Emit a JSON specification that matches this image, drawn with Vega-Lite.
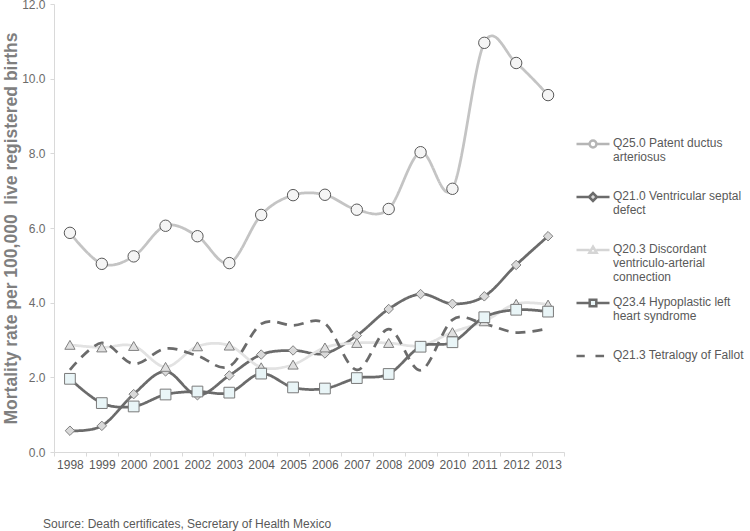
{
  "$schema": "https://vega.github.io/schema/vega-lite/v6.json",
  "width": 510,
  "height": 448,
  "autosize": {"type": "none"},
  "padding": {"left": 54, "top": 4, "right": 186, "bottom": 79},
  "background": "white",
  "config": {
    "view": {"stroke": null},
    "font": "Liberation Sans",
    "axis": {"labelFont": "Liberation Sans", "titleFont": "Liberation Sans"},
    "legend": {"labelFont": "Liberation Sans"}
  },
  "title": {
    "text": "Source: Death certificates, Secretary of Health Mexico",
    "orient": "bottom",
    "anchor": "start",
    "frame": "group",
    "fontSize": 12,
    "fontWeight": "normal",
    "color": "#595959",
    "font": "Liberation Sans",
    "dx": -11,
    "offset": 49
  },
  "data": {
    "values": [
      {"year": "1998", "series": "Q25.0 Patent ductus arteriosus", "value": 5.87},
      {"year": "1999", "series": "Q25.0 Patent ductus arteriosus", "value": 5.04},
      {"year": "2000", "series": "Q25.0 Patent ductus arteriosus", "value": 5.24},
      {"year": "2001", "series": "Q25.0 Patent ductus arteriosus", "value": 6.06},
      {"year": "2002", "series": "Q25.0 Patent ductus arteriosus", "value": 5.78},
      {"year": "2003", "series": "Q25.0 Patent ductus arteriosus", "value": 5.06},
      {"year": "2004", "series": "Q25.0 Patent ductus arteriosus", "value": 6.35},
      {"year": "2005", "series": "Q25.0 Patent ductus arteriosus", "value": 6.88},
      {"year": "2006", "series": "Q25.0 Patent ductus arteriosus", "value": 6.89},
      {"year": "2007", "series": "Q25.0 Patent ductus arteriosus", "value": 6.49},
      {"year": "2008", "series": "Q25.0 Patent ductus arteriosus", "value": 6.51},
      {"year": "2009", "series": "Q25.0 Patent ductus arteriosus", "value": 8.03},
      {"year": "2010", "series": "Q25.0 Patent ductus arteriosus", "value": 7.05},
      {"year": "2011", "series": "Q25.0 Patent ductus arteriosus", "value": 10.96},
      {"year": "2012", "series": "Q25.0 Patent ductus arteriosus", "value": 10.42},
      {"year": "2013", "series": "Q25.0 Patent ductus arteriosus", "value": 9.56},
      {"year": "1998", "series": "Q21.0 Ventricular septal defect", "value": 0.57},
      {"year": "1999", "series": "Q21.0 Ventricular septal defect", "value": 0.70},
      {"year": "2000", "series": "Q21.0 Ventricular septal defect", "value": 1.55},
      {"year": "2001", "series": "Q21.0 Ventricular septal defect", "value": 2.16},
      {"year": "2002", "series": "Q21.0 Ventricular septal defect", "value": 1.52},
      {"year": "2003", "series": "Q21.0 Ventricular septal defect", "value": 2.05},
      {"year": "2004", "series": "Q21.0 Ventricular septal defect", "value": 2.61},
      {"year": "2005", "series": "Q21.0 Ventricular septal defect", "value": 2.72},
      {"year": "2006", "series": "Q21.0 Ventricular septal defect", "value": 2.64},
      {"year": "2007", "series": "Q21.0 Ventricular septal defect", "value": 3.12},
      {"year": "2008", "series": "Q21.0 Ventricular septal defect", "value": 3.83},
      {"year": "2009", "series": "Q21.0 Ventricular septal defect", "value": 4.23},
      {"year": "2010", "series": "Q21.0 Ventricular septal defect", "value": 3.97},
      {"year": "2011", "series": "Q21.0 Ventricular septal defect", "value": 4.17},
      {"year": "2012", "series": "Q21.0 Ventricular septal defect", "value": 5.01},
      {"year": "2013", "series": "Q21.0 Ventricular septal defect", "value": 5.78},
      {"year": "1998", "series": "Q20.3 Discordant ventriculo-arterial connection", "value": 2.87},
      {"year": "1999", "series": "Q20.3 Discordant ventriculo-arterial connection", "value": 2.80},
      {"year": "2000", "series": "Q20.3 Discordant ventriculo-arterial connection", "value": 2.84},
      {"year": "2001", "series": "Q20.3 Discordant ventriculo-arterial connection", "value": 2.28},
      {"year": "2002", "series": "Q20.3 Discordant ventriculo-arterial connection", "value": 2.83},
      {"year": "2003", "series": "Q20.3 Discordant ventriculo-arterial connection", "value": 2.85},
      {"year": "2004", "series": "Q20.3 Discordant ventriculo-arterial connection", "value": 2.27},
      {"year": "2005", "series": "Q20.3 Discordant ventriculo-arterial connection", "value": 2.34},
      {"year": "2006", "series": "Q20.3 Discordant ventriculo-arterial connection", "value": 2.80},
      {"year": "2007", "series": "Q20.3 Discordant ventriculo-arterial connection", "value": 2.92},
      {"year": "2008", "series": "Q20.3 Discordant ventriculo-arterial connection", "value": 2.92},
      {"year": "2009", "series": "Q20.3 Discordant ventriculo-arterial connection", "value": 2.85},
      {"year": "2010", "series": "Q20.3 Discordant ventriculo-arterial connection", "value": 3.21},
      {"year": "2011", "series": "Q20.3 Discordant ventriculo-arterial connection", "value": 3.50},
      {"year": "2012", "series": "Q20.3 Discordant ventriculo-arterial connection", "value": 3.97},
      {"year": "2013", "series": "Q20.3 Discordant ventriculo-arterial connection", "value": 3.95},
      {"year": "1998", "series": "Q23.4 Hypoplastic left heart syndrome", "value": 1.96},
      {"year": "1999", "series": "Q23.4 Hypoplastic left heart syndrome", "value": 1.31},
      {"year": "2000", "series": "Q23.4 Hypoplastic left heart syndrome", "value": 1.22},
      {"year": "2001", "series": "Q23.4 Hypoplastic left heart syndrome", "value": 1.54},
      {"year": "2002", "series": "Q23.4 Hypoplastic left heart syndrome", "value": 1.62},
      {"year": "2003", "series": "Q23.4 Hypoplastic left heart syndrome", "value": 1.59},
      {"year": "2004", "series": "Q23.4 Hypoplastic left heart syndrome", "value": 2.10},
      {"year": "2005", "series": "Q23.4 Hypoplastic left heart syndrome", "value": 1.73},
      {"year": "2006", "series": "Q23.4 Hypoplastic left heart syndrome", "value": 1.70},
      {"year": "2007", "series": "Q23.4 Hypoplastic left heart syndrome", "value": 1.98},
      {"year": "2008", "series": "Q23.4 Hypoplastic left heart syndrome", "value": 2.09},
      {"year": "2009", "series": "Q23.4 Hypoplastic left heart syndrome", "value": 2.82},
      {"year": "2010", "series": "Q23.4 Hypoplastic left heart syndrome", "value": 2.94},
      {"year": "2011", "series": "Q23.4 Hypoplastic left heart syndrome", "value": 3.61},
      {"year": "2012", "series": "Q23.4 Hypoplastic left heart syndrome", "value": 3.81},
      {"year": "2013", "series": "Q23.4 Hypoplastic left heart syndrome", "value": 3.76},
      {"year": "1998", "series": "Q21.3 Tetralogy of Fallot", "value": 2.20},
      {"year": "1999", "series": "Q21.3 Tetralogy of Fallot", "value": 2.92},
      {"year": "2000", "series": "Q21.3 Tetralogy of Fallot", "value": 2.36},
      {"year": "2001", "series": "Q21.3 Tetralogy of Fallot", "value": 2.77},
      {"year": "2002", "series": "Q21.3 Tetralogy of Fallot", "value": 2.58},
      {"year": "2003", "series": "Q21.3 Tetralogy of Fallot", "value": 2.29},
      {"year": "2004", "series": "Q21.3 Tetralogy of Fallot", "value": 3.43},
      {"year": "2005", "series": "Q21.3 Tetralogy of Fallot", "value": 3.39},
      {"year": "2006", "series": "Q21.3 Tetralogy of Fallot", "value": 3.44},
      {"year": "2007", "series": "Q21.3 Tetralogy of Fallot", "value": 2.20},
      {"year": "2008", "series": "Q21.3 Tetralogy of Fallot", "value": 3.29},
      {"year": "2009", "series": "Q21.3 Tetralogy of Fallot", "value": 2.19},
      {"year": "2010", "series": "Q21.3 Tetralogy of Fallot", "value": 3.54},
      {"year": "2011", "series": "Q21.3 Tetralogy of Fallot", "value": 3.43},
      {"year": "2012", "series": "Q21.3 Tetralogy of Fallot", "value": 3.20},
      {"year": "2013", "series": "Q21.3 Tetralogy of Fallot", "value": 3.31}
    ]
  },
  "layer": [
    {
      "mark": {"type": "line", "interpolate": "cardinal", "strokeWidth": 2.75},
      "encoding": {
        "x": {
          "field": "year", "type": "ordinal", "bandPosition": 0.5,
          "scale": {"type": "band", "paddingInner": 0, "paddingOuter": 0},
          "axis": {
            "title": null, "labelAngle": 0, "domainColor": "#d9d9d9", "tickColor": "#d9d9d9",
            "tickSize": 4, "tickBand": "extent", "labelColor": "#595959", "labelFontSize": 12,
            "labelPadding": 3, "grid": false
          }
        },
        "y": {
          "field": "value", "type": "quantitative",
          "scale": {"domain": [0, 12], "nice": false, "zero": true},
          "axis": {
            "values": [0, 2, 4, 6, 8, 10, 12], "format": ".1f", "grid": false,
            "title": "Mortality rate per 100,000\u00a0 live registered births",
            "titleFontSize": 17.5, "titleFontWeight": "bold", "titleColor": "#7f7f7f", "titlePadding": 1,
            "labelColor": "#6b6b6b", "labelFontSize": 12, "labelPadding": 5, "tickSize": 4,
            "domainColor": "#d9d9d9", "tickColor": "#d9d9d9"
          }
        },
        "color": {
          "field": "series", "type": "nominal", "legend": null,
          "scale": {
            "domain": ["Q25.0 Patent ductus arteriosus", "Q21.0 Ventricular septal defect", "Q20.3 Discordant ventriculo-arterial connection", "Q23.4 Hypoplastic left heart syndrome", "Q21.3 Tetralogy of Fallot"],
            "range": ["#c4c4c4", "#6b6b6b", "#e2e2e2", "#6b6b6b", "#6b6b6b"]
          }
        },
        "strokeDash": {
          "field": "series", "type": "nominal", "legend": null,
          "scale": {
            "domain": ["Q25.0 Patent ductus arteriosus", "Q21.0 Ventricular septal defect", "Q20.3 Discordant ventriculo-arterial connection", "Q23.4 Hypoplastic left heart syndrome", "Q21.3 Tetralogy of Fallot"],
            "range": [[1, 0], [1, 0], [1, 0], [1, 0], [10, 7]]
          }
        }
      }
    },
    {
      "transform": [{"filter": "datum.series != 'Q21.3 Tetralogy of Fallot'"}],
      "mark": {"type": "point", "filled": true, "strokeWidth": 1, "opacity": 1},
      "encoding": {
        "x": {"field": "year", "type": "ordinal", "bandPosition": 0.5},
        "y": {"field": "value", "type": "quantitative"},
        "shape": {
          "field": "series", "type": "nominal", "legend": null,
          "scale": {
            "domain": ["Q25.0 Patent ductus arteriosus", "Q21.0 Ventricular septal defect", "Q20.3 Discordant ventriculo-arterial connection", "Q23.4 Hypoplastic left heart syndrome"],
            "range": ["circle", "diamond", "triangle-up", "square"]
          }
        },
        "fill": {
          "field": "series", "type": "nominal", "legend": null,
          "scale": {
            "domain": ["Q25.0 Patent ductus arteriosus", "Q21.0 Ventricular septal defect", "Q20.3 Discordant ventriculo-arterial connection", "Q23.4 Hypoplastic left heart syndrome"],
            "range": ["#f5f5f5", "#d9d9d9", "#e0e0e0", "#e9f5f7"]
          }
        },
        "stroke": {
          "field": "series", "type": "nominal", "legend": null,
          "scale": {
            "domain": ["Q25.0 Patent ductus arteriosus", "Q21.0 Ventricular septal defect", "Q20.3 Discordant ventriculo-arterial connection", "Q23.4 Hypoplastic left heart syndrome"],
            "range": ["#595959", "#808080", "#808080", "#7a7a7a"]
          }
        },
        "size": {
          "field": "series", "type": "nominal", "legend": null,
          "scale": {
            "type": "ordinal",
            "domain": ["Q25.0 Patent ductus arteriosus", "Q21.0 Ventricular septal defect", "Q20.3 Discordant ventriculo-arterial connection", "Q23.4 Hypoplastic left heart syndrome"],
            "range": [130, 90, 105, 115]
          }
        }
      }
    },
    {
      "transform": [{"filter": "false"}],
      "mark": {"type": "point", "filled": true, "strokeWidth": 2.5, "opacity": 1, "size": 1089},
      "encoding": {
        "shape": {
          "field": "series", "type": "nominal",
          "scale": {
            "domain": ["Q25.0 Patent ductus arteriosus", "Q21.0 Ventricular septal defect", "Q20.3 Discordant ventriculo-arterial connection", "Q23.4 Hypoplastic left heart syndrome", "Q21.3 Tetralogy of Fallot"],
            "range": [
              "M-1,-0.158H-0.21M0.21,-0.158H1M-0.21,-0.158A0.21,0.21 0 1,1 0.21,-0.158A0.21,0.21 0 1,1 -0.21,-0.158ZM0,-0.858M0,1.68",
              "M-1,-0.158H-0.24M0.24,-0.158H1M-0.24,-0.158L0,-0.398L0.24,-0.158L0,0.082ZM0,-0.858M0,1.68",
              "M-1,-0.158H-0.2M0.2,-0.158H1M0,-0.358L0.22,0.012L-0.22,0.012ZM0,-0.858M0,1.68",
              "M-1,-0.158H-0.2M0.2,-0.158H1M-0.2,-0.358H0.2V0.042H-0.2ZM0,-0.858M0,1.68",
              "M-1,-0.158H-0.5M0.15,-0.158H0.67M0,-0.858M0,1.68"
            ]
          },
          "legend": {
            "title": null, "orient": "none", "legendX": 521, "legendY": 124.6, "padding": 0,
            "rowPadding": 0, "labelFontSize": 12, "labelColor": "#595959", "labelLimit": 250,
            "labelOffset": 2, "labelBaseline": "alphabetic", "symbolStrokeWidth": 2.5, "symbolSize": 1089,
            "labelExpr": "datum.value == 'Q25.0 Patent ductus arteriosus' ? ['Q25.0 Patent ductus', 'arteriosus'] : datum.value == 'Q21.0 Ventricular septal defect' ? ['Q21.0 Ventricular septal', 'defect'] : datum.value == 'Q20.3 Discordant ventriculo-arterial connection' ? ['Q20.3 Discordant', 'ventriculo-arterial', 'connection'] : datum.value == 'Q23.4 Hypoplastic left heart syndrome' ? ['Q23.4 Hypoplastic left', 'heart syndrome'] : '\u00a0\u00a0\u00a0' + datum.label",
            "encode": {"labels": {"update": {"lineHeight": {"value": 14.4}}}}
          }
        },
        "stroke": {
          "field": "series", "type": "nominal",
          "scale": {
            "domain": ["Q25.0 Patent ductus arteriosus", "Q21.0 Ventricular septal defect", "Q20.3 Discordant ventriculo-arterial connection", "Q23.4 Hypoplastic left heart syndrome", "Q21.3 Tetralogy of Fallot"],
            "range": ["#b5b5b5", "#6b6b6b", "#d5d5d5", "#6b6b6b", "#6b6b6b"]
          },
          "legend": {
            "title": null, "orient": "none", "legendX": 521, "legendY": 124.6, "padding": 0,
            "rowPadding": 0, "labelFontSize": 12, "labelColor": "#595959", "labelLimit": 250,
            "labelOffset": 2, "labelBaseline": "alphabetic", "symbolStrokeWidth": 2.5, "symbolSize": 1089,
            "labelExpr": "datum.value == 'Q25.0 Patent ductus arteriosus' ? ['Q25.0 Patent ductus', 'arteriosus'] : datum.value == 'Q21.0 Ventricular septal defect' ? ['Q21.0 Ventricular septal', 'defect'] : datum.value == 'Q20.3 Discordant ventriculo-arterial connection' ? ['Q20.3 Discordant', 'ventriculo-arterial', 'connection'] : datum.value == 'Q23.4 Hypoplastic left heart syndrome' ? ['Q23.4 Hypoplastic left', 'heart syndrome'] : '\u00a0\u00a0\u00a0' + datum.label",
            "encode": {"labels": {"update": {"lineHeight": {"value": 14.4}}}}
          }
        },
        "fill": {
          "field": "series", "type": "nominal",
          "scale": {
            "domain": ["Q25.0 Patent ductus arteriosus", "Q21.0 Ventricular septal defect", "Q20.3 Discordant ventriculo-arterial connection", "Q23.4 Hypoplastic left heart syndrome", "Q21.3 Tetralogy of Fallot"],
            "range": ["#ffffff", "#d9d9d9", "#ffffff", "#eaf6f8", "transparent"]
          },
          "legend": {
            "title": null, "orient": "none", "legendX": 521, "legendY": 124.6, "padding": 0,
            "rowPadding": 0, "labelFontSize": 12, "labelColor": "#595959", "labelLimit": 250,
            "labelOffset": 2, "labelBaseline": "alphabetic", "symbolStrokeWidth": 2.5, "symbolSize": 1089,
            "labelExpr": "datum.value == 'Q25.0 Patent ductus arteriosus' ? ['Q25.0 Patent ductus', 'arteriosus'] : datum.value == 'Q21.0 Ventricular septal defect' ? ['Q21.0 Ventricular septal', 'defect'] : datum.value == 'Q20.3 Discordant ventriculo-arterial connection' ? ['Q20.3 Discordant', 'ventriculo-arterial', 'connection'] : datum.value == 'Q23.4 Hypoplastic left heart syndrome' ? ['Q23.4 Hypoplastic left', 'heart syndrome'] : '\u00a0\u00a0\u00a0' + datum.label",
            "encode": {"labels": {"update": {"lineHeight": {"value": 14.4}}}}
          }
        }
      }
    }
  ],
  "resolve": {
    "scale": {"shape": "independent", "fill": "independent", "stroke": "independent"},
    "legend": {"shape": "independent", "fill": "independent", "stroke": "independent"}
  }
}
